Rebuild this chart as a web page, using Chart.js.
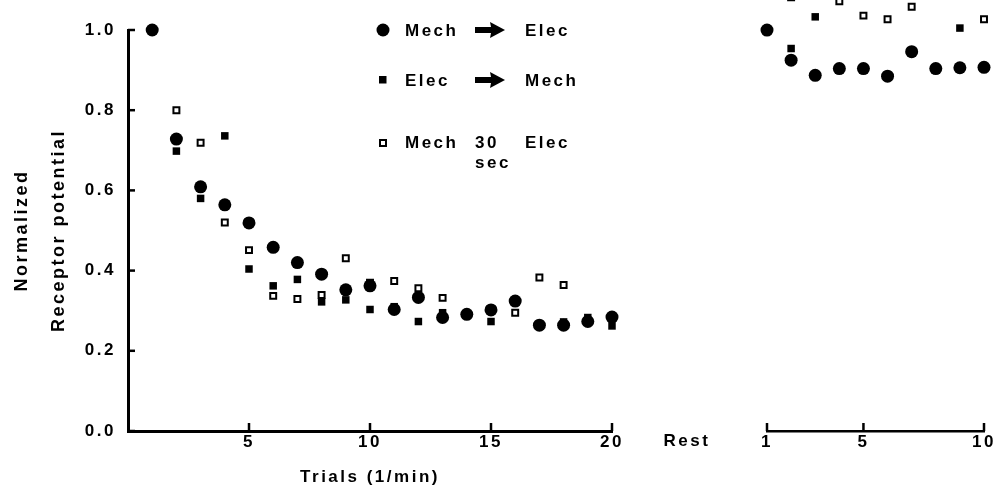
<!DOCTYPE html>
<html>
<head>
<meta charset="utf-8">
<script src="https://cdn.jsdelivr.net/npm/chart.js@4/dist/chart.umd.min.js"></script>
<style>
  body { margin: 0; background: #fff; }
  #wrap { position: relative; width: 1006px; height: 493px; }
  canvas { position: absolute; left: 0; top: 0; }
</style>
</head>
<body>
<div id="wrap">
  <canvas id="trialsChart" width="1006" height="493"></canvas>
  <canvas id="restChart" width="1006" height="493"></canvas>
</div>
<script>
// trials 1..20, one stimulus per minute
const trials = [1, 2, 3, 4, 5, 6, 7, 8, 9, 10, 11, 12, 13, 14, 15, 16, 17, 18, 19, 20];
const mechElec = [1.0, 0.728, 0.609, 0.564, 0.519, 0.458, 0.42, 0.391, 0.352, 0.362,
  0.303, 0.333, 0.283, 0.291, 0.302, 0.324, 0.264, 0.264, 0.273, 0.284];
const elecMech = [1.0, 0.698, 0.58, 0.736, 0.404, 0.362, 0.378, 0.322, 0.327, 0.303,
  0.31, 0.273, 0.295, 0.29, 0.273, 0.322, 0.264, 0.272, 0.283, 0.262];
const mech30Elec = [1.0, 0.8, 0.719, 0.52, 0.451, 0.337, 0.329, 0.339, 0.431, 0.37,
  0.374, 0.356, 0.332, null, null, 0.295, 0.383, 0.364, null, null];

// after rest 1..10 (some points run off the top of the figure)
const rest = [1, 2, 3, 4, 5, 6, 7, 8, 9, 10];
const restMechElec = [1.0, 0.925, 0.887, 0.904, 0.904, 0.885, 0.946, 0.904, 0.906, 0.907];
const restElecMech = [null, 0.954, 1.033, null, null, null, null, null, 1.005, null];
const restMech30Elec = [null, 1.082, null, 1.072, 1.036, 1.027, 1.058, null, null, 1.027];

const yTicks = [0, 0.2, 0.4, 0.6, 0.8, 1.0];
const trialTicks = [5, 10, 15, 20];
const restTicks = [1, 5, 10];
const restYMax = 1.075; // right panel is cropped at the top of the page

const FONT = "'Liberation Sans', Arial, sans-serif";
const SPACING = "2.5px";
Chart.defaults.color = "#000";
Chart.defaults.font.family = FONT;
Chart.defaults.font.weight = "bold";
Chart.defaults.font.size = 17;

function pts(xs, ys) {
  return xs.map((x, i) => ({ x: x, y: ys[i] }));
}

function series(xs, ys, kind) {
  const ds = { data: pts(xs, ys), clip: false, borderColor: "#000", pointBorderColor: "#000" };
  if (kind === "circle") {
    Object.assign(ds, { pointStyle: "circle", pointRadius: 6.5, pointBackgroundColor: "#000", pointBorderWidth: 0 });
  } else if (kind === "filled") {
    Object.assign(ds, { pointStyle: "rect", pointRadius: 5.3, pointBackgroundColor: "#000", pointBorderWidth: 0 });
  } else {
    Object.assign(ds, { pointStyle: "rect", pointRadius: 4.2, pointBackgroundColor: "#fff", pointBorderWidth: 2 });
  }
  return ds;
}

const spacing = {
  id: "spacing",
  beforeLayout(chart) { chart.ctx.letterSpacing = SPACING; },
  beforeDraw(chart) { chart.ctx.letterSpacing = SPACING; }
};

// tick marks point into the plot, like the original figure
const inwardTicks = {
  id: "inwardTicks",
  afterDraw(chart) {
    const { ctx, chartArea } = chart;
    ctx.save();
    ctx.strokeStyle = "#000";
    ctx.lineWidth = 2.5;
    const xs = chart.scales.x;
    xs.ticks.forEach((t) => {
      const px = xs.getPixelForValue(t.value);
      ctx.beginPath();
      ctx.moveTo(px, chartArea.bottom);
      ctx.lineTo(px, chartArea.bottom - 8);
      ctx.stroke();
    });
    const ys = chart.scales.y;
    if (ys.options.display) {
      ys.ticks.forEach((t) => {
        const py = ys.getPixelForValue(t.value);
        ctx.beginPath();
        ctx.moveTo(chartArea.left, py);
        ctx.lineTo(chartArea.left + 7, py);
        ctx.stroke();
      });
    }
    ctx.restore();
  }
};

function arrow(ctx, x, y) {
  ctx.beginPath();
  ctx.moveTo(x, y - 3);
  ctx.lineTo(x + 16, y - 3);
  ctx.lineTo(x + 15, y - 8);
  ctx.lineTo(x + 30, y);
  ctx.lineTo(x + 15, y + 8);
  ctx.lineTo(x + 16, y + 3);
  ctx.lineTo(x, y + 3);
  ctx.closePath();
  ctx.fill();
}

const legendBox = {
  id: "legendBox",
  afterDraw(chart) {
    const ctx = chart.ctx;
    ctx.save();
    ctx.letterSpacing = SPACING;
    ctx.fillStyle = "#000";
    ctx.strokeStyle = "#000";
    ctx.font = "bold 17px " + FONT;
    ctx.textBaseline = "middle";
    ctx.textAlign = "left";

    ctx.beginPath();
    ctx.arc(383, 30, 6.5, 0, Math.PI * 2);
    ctx.fill();
    ctx.fillText("Mech", 405, 31);
    arrow(ctx, 475, 30);
    ctx.fillText("Elec", 525, 31);

    ctx.fillRect(379, 76, 7.5, 7.5);
    ctx.fillText("Elec", 405, 81);
    arrow(ctx, 475, 80);
    ctx.fillText("Mech", 525, 81);

    ctx.lineWidth = 2;
    ctx.strokeRect(380, 140, 6, 6);
    ctx.fillText("Mech", 405, 143);
    ctx.fillText("30", 475, 143);
    ctx.fillText("sec", 475, 163);
    ctx.fillText("Elec", 525, 143);
    ctx.restore();
  }
};

const restLabel = {
  id: "restLabel",
  afterDraw(chart) {
    const ctx = chart.ctx;
    ctx.save();
    ctx.letterSpacing = SPACING;
    ctx.fillStyle = "#000";
    ctx.font = "bold 17px " + FONT;
    ctx.textBaseline = "middle";
    ctx.textAlign = "center";
    ctx.fillText("Rest", chart.chartArea.left - 80, 441);
    ctx.restore();
  }
};

new Chart(document.getElementById("trialsChart"), {
  type: "scatter",
  data: {
    datasets: [
      series(trials, mechElec, "circle"),
      series(trials, elecMech, "filled"),
      series(trials, mech30Elec, "open")
    ]
  },
  options: {
    responsive: false,
    animation: false,
    events: [],
    layout: { autoPadding: false, padding: { left: 0, top: 30, right: 394, bottom: 0 } },
    plugins: { legend: { display: false }, tooltip: { enabled: false } },
    scales: {
      x: {
        type: "linear",
        min: 0,
        max: 20,
        afterBuildTicks: (s) => { s.ticks = trialTicks.map((v) => ({ value: v })); },
        afterFit: (s) => { s.height = 62; },
        ticks: { padding: 1, maxRotation: 0, callback: (v) => String(v) },
        grid: { drawOnChartArea: false, drawTicks: false },
        border: { display: true, color: "#000", width: 3 },
        title: {
          display: true,
          text: "Trials (1/min)",
          font: { size: 17, weight: "bold" },
          padding: { top: 0, bottom: 5 }
        }
      },
      y: {
        type: "linear",
        min: 0,
        max: 1.0,
        afterBuildTicks: (s) => { s.ticks = yTicks.map((v) => ({ value: v })); },
        afterFit: (s) => { s.width = 128; },
        ticks: { padding: 12, callback: (v) => v.toFixed(1) },
        grid: { drawOnChartArea: false, drawTicks: false },
        border: { display: true, color: "#000", width: 3 },
        title: {
          display: true,
          text: ["Normalized", "Receptor potential"],
          font: { size: 18, weight: "bold", lineHeight: 2.05 },
          padding: { top: 4, bottom: 0 }
        }
      }
    }
  },
  plugins: [spacing, inwardTicks, legendBox]
});

new Chart(document.getElementById("restChart"), {
  type: "scatter",
  data: {
    datasets: [
      series(rest, restMechElec, "circle"),
      series(rest, restElecMech, "filled"),
      series(rest, restMech30Elec, "open")
    ]
  },
  options: {
    responsive: false,
    animation: false,
    events: [],
    layout: { autoPadding: false, padding: { left: 767, top: 0, right: 22, bottom: 0 } },
    plugins: { legend: { display: false }, tooltip: { enabled: false } },
    scales: {
      x: {
        type: "linear",
        min: 1,
        max: 10,
        afterBuildTicks: (s) => { s.ticks = restTicks.map((v) => ({ value: v })); },
        afterFit: (s) => { s.height = 62; },
        ticks: { padding: 1, maxRotation: 0, callback: (v) => String(v) },
        grid: { drawOnChartArea: false, drawTicks: false },
        border: { display: true, color: "#000", width: 2.5 }
      },
      y: {
        type: "linear",
        min: 0,
        max: restYMax,
        display: false
      }
    }
  },
  plugins: [spacing, inwardTicks, restLabel]
});
</script>
</body>
</html>
